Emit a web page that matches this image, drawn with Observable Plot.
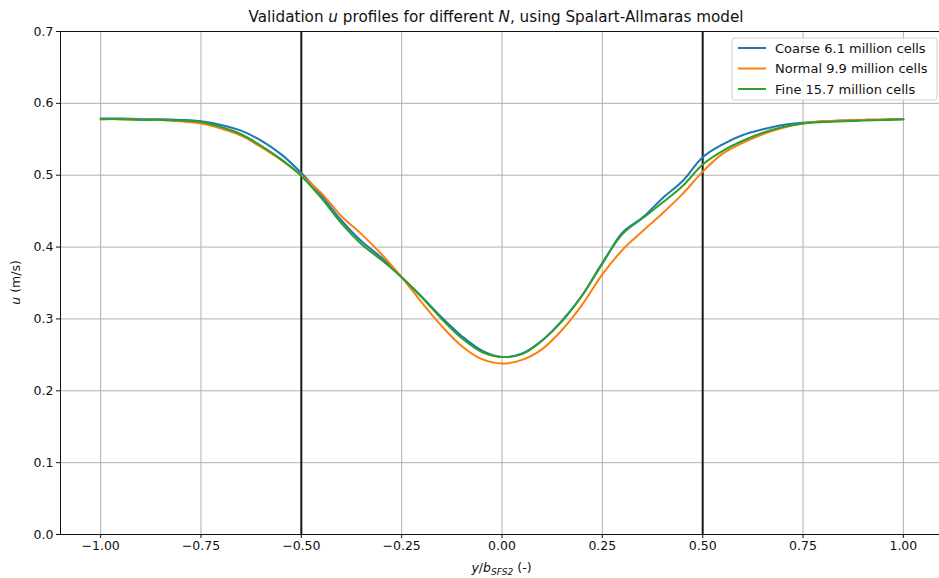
<!DOCTYPE html>
<html>
<head>
<meta charset="utf-8">
<script src="https://cdn.jsdelivr.net/npm/d3@7"></script>
<script src="https://cdn.jsdelivr.net/npm/@observablehq/plot@0.6"></script>
<style>
  html, body { margin: 0; padding: 0; background: #fff; overflow: hidden; }
  #chart svg { display: block; }
</style>
</head>
<body>
<div id="chart"></div>
<script>
// Spanwise stations y/b_SFS2 and streamwise velocity u (m/s) for each mesh
const spanwise = [-1.00, -0.95, -0.90, -0.85, -0.80, -0.75, -0.70, -0.65, -0.60, -0.55,
                  -0.50, -0.45, -0.40, -0.35, -0.30, -0.25, -0.20, -0.15, -0.10, -0.05,
                   0.00,  0.05,  0.10,  0.15,  0.20,  0.25,  0.30,  0.35,  0.40,  0.45,
                   0.50,  0.55,  0.60,  0.65,  0.70,  0.75,  0.80,  0.85,  0.90,  0.95, 1.00];

const coarse = [0.579, 0.579, 0.578, 0.578, 0.577, 0.575, 0.570, 0.562, 0.548, 0.529,
                0.503, 0.472, 0.437, 0.408, 0.385, 0.358, 0.331, 0.302, 0.276, 0.256,
                0.247, 0.252, 0.270, 0.298, 0.333, 0.377, 0.420, 0.441, 0.468, 0.492,
                0.525, 0.543, 0.556, 0.564, 0.570, 0.573, 0.575, 0.576, 0.577, 0.577, 0.578];

const normal = [0.578, 0.578, 0.577, 0.577, 0.575, 0.572, 0.565, 0.555, 0.539, 0.521,
                0.500, 0.475, 0.443, 0.418, 0.390, 0.358, 0.323, 0.290, 0.262, 0.244,
                0.238, 0.243, 0.258, 0.285, 0.320, 0.362, 0.396, 0.422, 0.447, 0.474,
                0.505, 0.530, 0.545, 0.557, 0.566, 0.572, 0.575, 0.576, 0.577, 0.578, 0.578];

const fine = [0.578, 0.578, 0.577, 0.577, 0.576, 0.574, 0.567, 0.557, 0.541, 0.522,
              0.499, 0.468, 0.433, 0.404, 0.382, 0.358, 0.330, 0.300, 0.273, 0.254,
              0.247, 0.251, 0.270, 0.297, 0.333, 0.378, 0.418, 0.440, 0.462, 0.485,
              0.515, 0.534, 0.548, 0.559, 0.567, 0.572, 0.574, 0.575, 0.576, 0.577, 0.578];

const seriesNames = ["Coarse 6.1 million cells", "Normal 9.9 million cells", "Fine 15.7 million cells"];
const seriesColors = ["#1f77b4", "#ff7f0e", "#2ca02c"];

const xTicks = [-1.00, -0.75, -0.50, -0.25, 0.00, 0.25, 0.50, 0.75, 1.00];
const yTicks = [0.0, 0.1, 0.2, 0.3, 0.4, 0.5, 0.6, 0.7];
const boundaries = [-0.5, 0.5];

// Long-format table for the line marks
const rows = [];
[coarse, normal, fine].forEach((values, k) => {
  values.forEach((u, i) => rows.push({pos: spanwise[i], u, series: seriesNames[k]}));
});

const font = "'DejaVu Sans', sans-serif";

const chart = Plot.plot({
  width: 939,
  height: 578,
  marginLeft: 60,
  marginTop: 31,
  marginBottom: 44,
  marginRight: -4,
  x: {domain: [-1.1, 1.1]},
  y: {domain: [0, 0.7]},
  color: {domain: seriesNames, range: seriesColors},
  style: {fontFamily: font, fontSize: "12.5px", color: "#111", background: "#fff", overflow: "hidden"},
  marks: [
    Plot.gridX(xTicks, {stroke: "#b0b0b0", strokeOpacity: 1, strokeWidth: 1}),
    Plot.gridY(yTicks, {stroke: "#b0b0b0", strokeOpacity: 1, strokeWidth: 1}),
    Plot.ruleX(boundaries, {stroke: "#1a1a1a", strokeWidth: 2}),
    Plot.line(rows, {x: "pos", y: "u", z: "series", stroke: "series", strokeWidth: 2, curve: "catmull-rom"}),
    Plot.frame({stroke: "#111", strokeWidth: 1}),
    Plot.axisX(xTicks, {tickFormat: d3.format(".2f"), tickSize: 4, tickPadding: 3, label: null}),
    Plot.axisY(yTicks, {tickFormat: d3.format(".1f"), tickSize: 4, tickPadding: 3, label: null})
  ]
});

document.getElementById("chart").appendChild(chart);

// Rich-text labels (italic symbols, subscript) and the legend
const svg = d3.select(chart);
const [x0, x1] = chart.scale("x").range;
const [yBottom, yTop] = chart.scale("y").range;
const cx = (x0 + x1) / 2;
const cy = (yBottom + yTop) / 2;

function richText(parent, parts) {
  for (const p of parts) {
    const t = parent.append("tspan").text(p.text);
    if (p.italic) t.attr("font-style", "italic");
    if (p.size) t.attr("font-size", p.size);
    if (p.dy) t.attr("dy", p.dy);
  }
}

const title = svg.append("text")
  .attr("x", 496).attr("y", 22)
  .attr("text-anchor", "middle")
  .attr("font-family", font).attr("font-size", 15.2).attr("fill", "#111");
richText(title, [
  {text: "Validation "}, {text: "u", italic: true}, {text: " profiles for different "},
  {text: "N", italic: true}, {text: ", using Spalart-Allmaras model"}
]);

const xLabel = svg.append("text")
  .attr("x", cx).attr("y", 572)
  .attr("text-anchor", "middle")
  .attr("font-family", font).attr("font-size", 12.5).attr("fill", "#111");
richText(xLabel, [
  {text: "y", italic: true}, {text: "/"}, {text: "b", italic: true},
  {text: "SFS2", italic: true, size: 9, dy: 3}, {text: " (-)", dy: -3}
]);

const yLabel = svg.append("text")
  .attr("transform", `translate(20,${cy}) rotate(-90)`)
  .attr("text-anchor", "middle")
  .attr("font-family", font).attr("font-size", 12.5).attr("fill", "#111");
richText(yLabel, [{text: "u", italic: true}, {text: " (m/s)"}]);

// Legend box in the upper-right corner
const legend = svg.append("g")
  .attr("font-family", font).attr("font-size", 13).attr("text-anchor", "start");
legend.append("rect")
  .attr("x", 732).attr("y", 38).attr("width", 205).attr("height", 62)
  .attr("rx", 3).attr("fill", "#fff").attr("fill-opacity", 0.8)
  .attr("stroke", "#d0d0d0").attr("stroke-width", 1);
seriesNames.forEach((name, i) => {
  const yy = 48 + i * 20.5;
  legend.append("line")
    .attr("x1", 738).attr("x2", 766).attr("y1", yy).attr("y2", yy)
    .attr("stroke", seriesColors[i]).attr("stroke-width", 2);
  legend.append("text")
    .attr("x", 775).attr("y", yy + 4.5)
    .attr("text-anchor", "start")
    .attr("fill", "#111").text(name);
});
</script>
</body>
</html>
